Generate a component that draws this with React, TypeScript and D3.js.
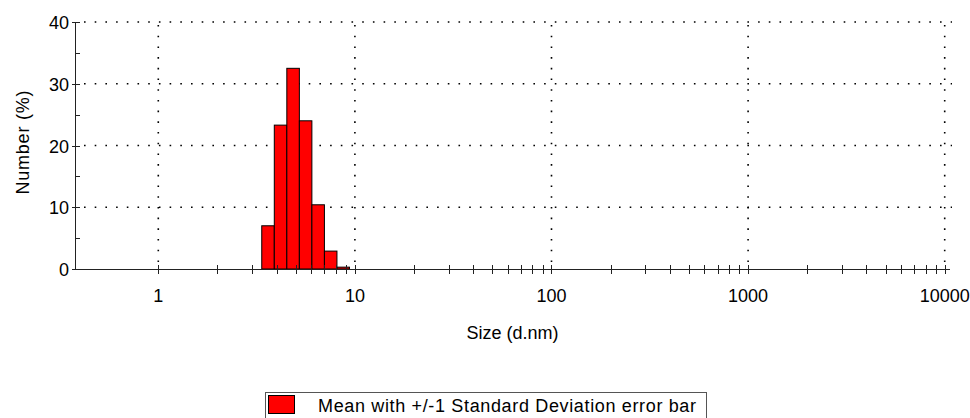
import * as React from "react";
import * as d3 from "d3";

// size classes (d.nm, bin centres) and number distribution (%)
const sizes = [3.615, 4.187, 4.849, 5.615, 6.503, 7.531, 8.721];
const numberPct = [7.0, 23.3, 32.5, 24.0, 10.4, 2.9, 0.3];

const xTicks = [1, 10, 100, 1000, 10000];
const yTicks = [0, 10, 20, 30, 40];
const yMinorTicks = [5, 15, 25, 35];

const legendLabel = "Mean with +/-1 Standard Deviation error bar";

function drawChart(svgRef: React.RefObject<SVGSVGElement>) {
  const width = 970;
  const height = 418;
  const left = 75;
  const right = 950;
  const top = 22;
  const bottom = 269;
  const font = '"Liberation Sans", Arial, sans-serif';
  const binRatio = Math.pow(25000, 1 / 69);

  const svg = d3.select(svgRef.current);
  svg.selectAll("*").remove();
  svg.attr("width", width).attr("height", height);

  const x = d3.scaleLog().domain([0.377, 10640]).range([left, right]);
  const y = d3.scaleLinear().domain([0, 40]).range([bottom, top]);

  /* grid */
  const grid = svg.append("g").attr("stroke", "#000").attr("stroke-width", 1.6).attr("stroke-dasharray", "1.6 9.1");
  grid
    .selectAll("line.h")
    .data(yTicks.filter((d) => d > 0))
    .enter()
    .append("line")
    .attr("x1", left + 9)
    .attr("x2", right + 2)
    .attr("y1", (d) => y(d))
    .attr("y2", (d) => y(d));
  grid
    .selectAll("line.v")
    .data(xTicks)
    .enter()
    .append("line")
    .attr("x1", (d) => x(d))
    .attr("x2", (d) => x(d))
    .attr("y1", y(0) - 7)
    .attr("y2", y(40));

  /* bars */
  svg
    .append("g")
    .selectAll("rect")
    .data(sizes)
    .enter()
    .append("rect")
    .attr("x", (d) => x(d / Math.sqrt(binRatio)))
    .attr("width", (d) => x(d * Math.sqrt(binRatio)) - x(d / Math.sqrt(binRatio)))
    .attr("y", (_d, i) => y(numberPct[i]))
    .attr("height", (_d, i) => y(0) - y(numberPct[i]))
    .attr("fill", "#ff0000")
    .attr("stroke", "#000")
    .attr("stroke-width", 1);

  /* x axis */
  const minor = x.ticks().filter((d) => d >= 1 && d <= 10000 && !xTicks.includes(d));
  const xa = svg.append("g").attr("stroke", "#222").attr("stroke-width", 1);
  xa.append("line").attr("x1", left).attr("x2", right).attr("y1", bottom + 0.5).attr("y2", bottom + 0.5);
  xa.selectAll("line.t")
    .data(xTicks.concat(minor))
    .enter()
    .append("line")
    .attr("x1", (d) => Math.round(x(d)) + 0.5)
    .attr("x2", (d) => Math.round(x(d)) + 0.5)
    .attr("y1", bottom - 4)
    .attr("y2", bottom + 5);
  svg
    .append("g")
    .selectAll("text")
    .data(xTicks)
    .enter()
    .append("text")
    .attr("x", (d) => x(d))
    .attr("y", 302)
    .attr("text-anchor", "middle")
    .attr("font-family", font)
    .attr("font-size", 18)
    .text((d) => `${d}`);

  svg
    .append("text")
    .attr("x", (left + right) / 2)
    .attr("y", 339)
    .attr("text-anchor", "middle")
    .attr("font-family", font)
    .attr("font-size", 18)
    .text("Size (d.nm)");

  /* y axis */
  const ya = svg.append("g").attr("stroke", "#222").attr("stroke-width", 1);
  ya.append("line").attr("x1", left + 0.5).attr("x2", left + 0.5).attr("y1", top).attr("y2", bottom);
  ya.selectAll("line.maj")
    .data(yTicks)
    .enter()
    .append("line")
    .attr("x1", left - 3)
    .attr("x2", left + 5)
    .attr("y1", (d) => Math.round(y(d)) + 0.5)
    .attr("y2", (d) => Math.round(y(d)) + 0.5);
  ya.selectAll("line.min")
    .data(yMinorTicks)
    .enter()
    .append("line")
    .attr("x1", left)
    .attr("x2", left + 5)
    .attr("y1", (d) => Math.round(y(d)) + 0.5)
    .attr("y2", (d) => Math.round(y(d)) + 0.5);
  svg
    .append("g")
    .selectAll("text")
    .data(yTicks)
    .enter()
    .append("text")
    .attr("x", left - 6)
    .attr("y", (d) => y(d) + 7)
    .attr("text-anchor", "end")
    .attr("font-family", font)
    .attr("font-size", 18)
    .text((d) => `${d}`);

  svg
    .append("text")
    .attr("transform", `translate(29, ${(top + bottom) / 2 - 3}) rotate(-90)`)
    .attr("text-anchor", "middle")
    .attr("font-family", font)
    .attr("font-size", 18)
    .attr("textLength", 104)
    .text("Number (%)");

  /* legend */
  const lg = svg.append("g");
  lg.append("rect")
    .attr("x", 265.5)
    .attr("y", 392.5)
    .attr("width", 441)
    .attr("height", 40)
    .attr("fill", "none")
    .attr("stroke", "#555")
    .attr("stroke-width", 1);
  lg.append("rect")
    .attr("x", 268.5)
    .attr("y", 395.5)
    .attr("width", 26)
    .attr("height", 18)
    .attr("fill", "#ff0000")
    .attr("stroke", "#000")
    .attr("stroke-width", 1);
  lg.append("text")
    .attr("x", 318)
    .attr("y", 412)
    .attr("font-family", font)
    .attr("font-size", 18)
    .attr("textLength", 378)
    .text(legendLabel);
}

export default function App() {
  const svg = React.useRef<SVGSVGElement>(null);
  React.useEffect(() => {
    drawChart(svg);
  }, [svg]);

  return <svg ref={svg} style={{ position: "absolute", left: 0, top: 0, background: "#fff" }} />;
}
